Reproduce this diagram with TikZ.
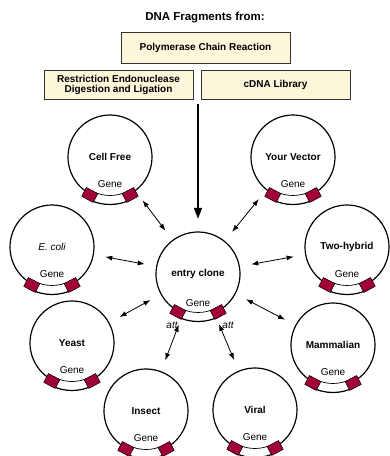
\documentclass[tikz,border=0pt]{standalone}
\usepackage{fontspec}
\setmainfont{Liberation Sans}
\usepackage{xcolor}
\usetikzlibrary{arrows.meta}

\definecolor{creambox}{RGB}{252,247,218}
\definecolor{genered}{RGB}{163,0,56}

\tikzset{
  srcbox/.style={draw=black!80, fill=creambox, line width=0.8pt, inner sep=0pt,
    align=center, font=\bfseries\fontsize{10}{10}\selectfont},
  plasmidnode/.style={circle, minimum size=84pt, inner sep=0pt,
    font=\bfseries\fontsize{10}{12}\selectfont},
  genelbl/.style={inner sep=0pt, font=\fontsize{10}{12}\selectfont},
  attlbl/.style={inner sep=0pt, font=\itshape\fontsize{10}{12}\selectfont},
  ring/.style={line width=1.2pt},
  geneblock/.style={fill=genered, draw=black, line width=0.5pt},
  feedarrow/.style={-{Triangle[length=11pt,width=8pt]}, line width=1.6pt, shorten >=13pt},
  exchange/.style={{Latex[length=7pt,width=5pt]}-{Latex[length=7pt,width=5pt]},
    line width=0.8pt, shorten <=12pt, shorten >=12pt}
}

% ring with the gene cassette at the bottom
\newcommand{\plasmid}[1]{%
  \begin{scope}[shift={(#1.center)}]
    \draw[ring] (-62:42) arc[start angle=-62, end angle=242, radius=42];
    \fill[white] (-62:38.5) arc[start angle=-62, end angle=-118, radius=38.5]
      -- (-118:47.5) arc[start angle=-118, end angle=-62, radius=47.5] -- cycle;
    \draw[line width=0.7pt] (-62:38.5) arc[start angle=-62, end angle=-118, radius=38.5];
    \draw[ring] (-62:47.5) arc[start angle=-62, end angle=-118, radius=47.5];
    \draw[geneblock, shift={(-62:43)}, rotate=28] (-6.5,-5) rectangle (6.5,5);
    \draw[geneblock, shift={(-118:43)}, rotate=-28] (-6.5,-5) rectangle (6.5,5);
  \end{scope}}

\begin{document}
\begin{tikzpicture}[x=1pt, y=1pt]
  \useasboundingbox (0,0) rectangle (390,-456);

  % Heading and the three sources
  \node[font=\bfseries\fontsize{11.5}{14}\selectfont] (head) at (205,-18) {DNA Fragments from:};
  \node[srcbox, minimum width=169pt, minimum height=31pt] (pcr) at (205.5,-47.5) {Polymerase Chain Reaction};
  \node[srcbox, minimum width=149pt, minimum height=29pt] (digest) at (118.5,-84.5) {Restriction Endonuclease\\Digestion and Ligation};
  \node[srcbox, minimum width=149pt, minimum height=29pt] (cdna) at (275.5,-84.5) {cDNA Library};

  % Entry clone in the middle
  \node[plasmidnode] (entry) at (198,-274) {entry clone};
  \plasmid{entry}
  \node[genelbl] (entrygene) at ([yshift=-29pt]entry.center) {Gene};
  \node[attlbl] (attl) at ([shift={(-26,-51)}]entry.center) {att};
  \node[attlbl] (attr) at ([shift={(30,-51)}]entry.center) {att};

  % Feed arrow from the sources
  \coordinate (feed) at (198,-104);
  \draw[feedarrow] (feed) -- (entry);

  % Destination vectors around it
  \foreach \name/\pos/\txt in {cellfree/{110,-157}/Cell Free,
      yourvec/{293,-157}/Your Vector,
      ecoli/{52,-247}/{\normalfont\itshape E. coli},
      twohyb/{347,-247}/Two-hybrid,
      yeast/{72,-343}/Yeast,
      mammal/{333,-345}/Mammalian,
      insect/{146,-411}/Insect,
      viral/{255,-410}/Viral} {
    \node[plasmidnode] (\name) at (\pos) {\txt};
    \plasmid{\name}
    \node[genelbl] (\name gene) at ([yshift=-27pt]\name.center) {Gene};
    \draw[exchange] (entry) -- (\name);
  }
\end{tikzpicture}
\end{document}
